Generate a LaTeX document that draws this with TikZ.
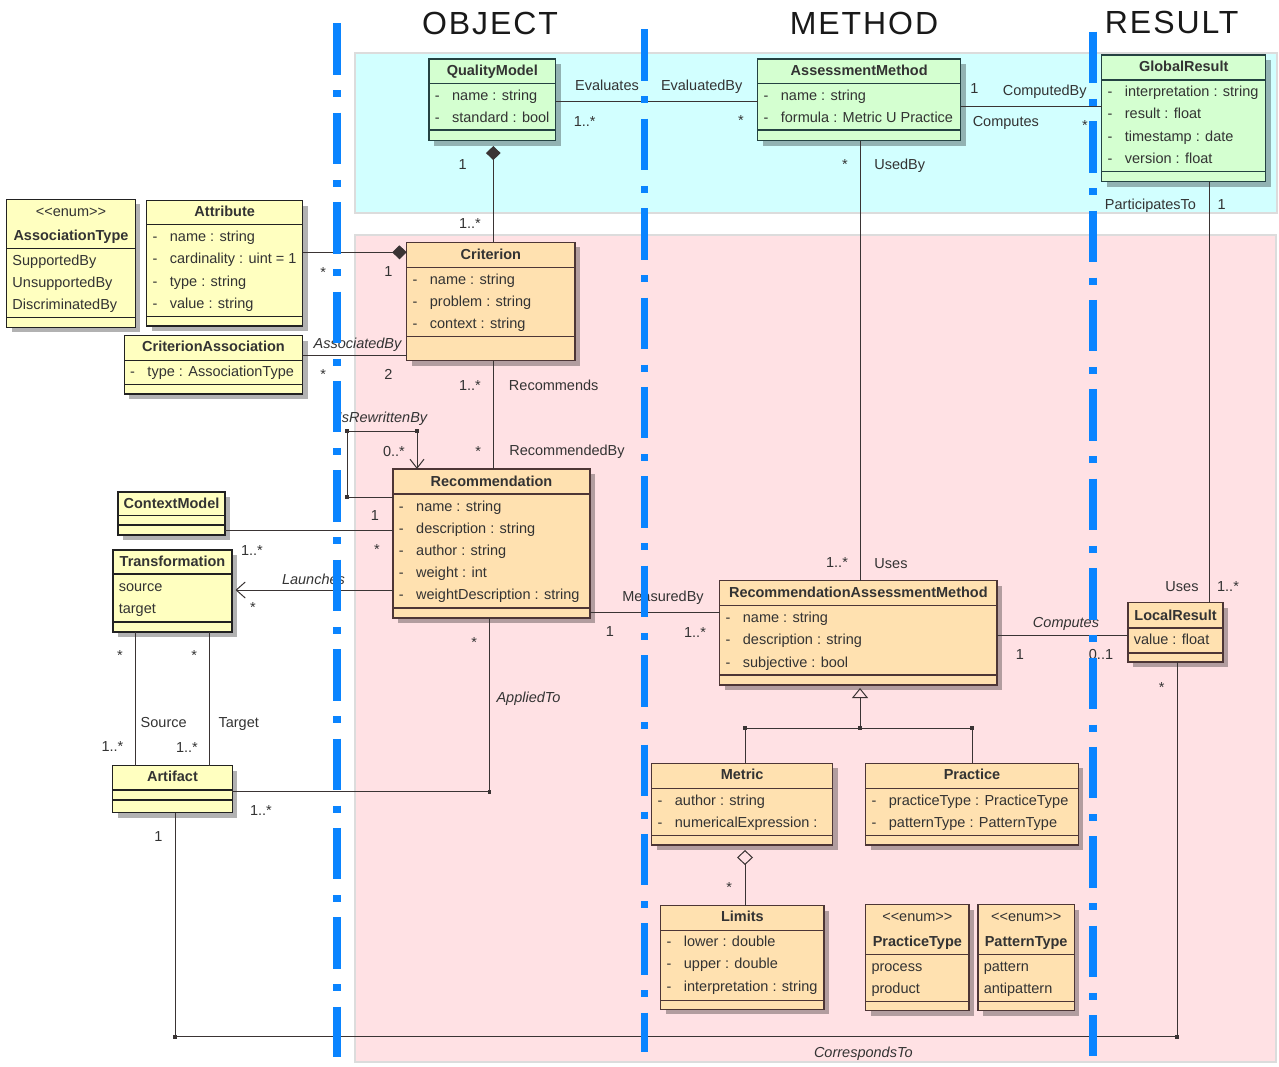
\documentclass[tikz,border=0pt]{standalone}
\usepackage{fontspec}
\setmainfont{Liberation Sans}
\newfontfamily\headfont[LetterSpace=6]{Liberation Sans}
\usetikzlibrary{arrows.meta, shadows}
\definecolor{cyanfill}{HTML}{D2FFFF}
\definecolor{pinkfill}{HTML}{FFE1E4}
\definecolor{zoneedge}{HTML}{DCDCDC}
\definecolor{grnfill}{HTML}{D4FFD0}
\definecolor{grnedge}{HTML}{244242}
\definecolor{ylwfill}{HTML}{FFFFC0}
\definecolor{ylwedge}{HTML}{222222}
\definecolor{orgfill}{HTML}{FFE1B0}
\definecolor{orgedge}{HTML}{4D3636}
\definecolor{lnclr}{HTML}{3A3434}
\definecolor{txtclr}{HTML}{333333}
\definecolor{swimclr}{HTML}{0A84FF}
\newcommand{\umlfont}{\fontsize{14.5}{22.2}\selectfont}
\newcommand{\umla}[1]{\strut\makebox[17.4pt][l]{-}#1}

\begin{document}
\begin{tikzpicture}[
  x=1pt, y=-1pt,
  font=\umlfont,
  box/.style 2 args={rectangle, draw=#1, fill=#2, line width=1.2pt, inner sep=0pt, outer sep=0pt,
              drop shadow={shadow xshift=5pt, shadow yshift=-5pt, fill=black, opacity=0.3}},
  grn/.style={box={grnedge}{grnfill}},
  ylw/.style={box={ylwedge}{ylwfill}},
  org/.style={box={orgedge}{orgfill}},
  csep/.style={draw=#1, line width=1.1pt},
  ttl/.style={font=\umlfont\bfseries, text=txtclr, inner sep=0pt, text height=10.4pt, text depth=0pt},
  mem/.style={anchor=north west, align=left, inner sep=0pt, text=txtclr, xshift=5.6pt},
  lab/.style={inner sep=0pt, text=txtclr, text height=10.4pt, text depth=0pt},
  rolelab/.style={lab, font=\umlfont\itshape},
  conn/.style={draw=lnclr, line width=1pt},
  jdot/.style={rectangle, fill=lnclr, inner sep=0pt, minimum size=3.6pt},
  zone/.style={draw=zoneedge, line width=2pt},
  swim/.style={draw=swimclr, line width=7.5pt, dash pattern=on 51.5pt off 15.6pt on 7pt off 15.3pt},
  lanehead/.style={font=\headfont\fontsize{32}{32}\selectfont, text=black!90, inner sep=0pt,
              text height=22.9pt, text depth=0pt},
]
\useasboundingbox (0,0) rectangle (1279,1066);
% ================= zones and headings ======================================
\draw[zone, fill=cyanfill] (355,52.7) rectangle (1277,213.3);
\draw[zone, fill=pinkfill] (355,235) rectangle (1276,1062);
\node[lanehead] (hobj) at (490,23) {OBJECT};
\node[lanehead] (hmet) at (864,23) {METHOD};
\node[lanehead] (hres) at (1171.7,22.5) {RESULT};
% ================= green classes ===========================================
\node[grn, minimum width=126.7, minimum height=81.5] (qm) at (492.3,99.8) {};
\draw[csep=grnedge] (qm.west |- 0,83.3) -- (qm.east |- 0,83.3) (qm.west |- 0,130) -- (qm.east |- 0,130);
\node[ttl] (qm-t) at (qm.north |- 0,70.7) {QualityModel};
\node[mem] (qm-a) at (qm.west |- 0,84.3) {\umla{name : string}\\\umla{standard : bool}};
\node[grn, minimum width=203, minimum height=81.5] (am) at (859.2,99.8) {};
\draw[csep=grnedge] (am.west |- 0,83.3) -- (am.east |- 0,83.3) (am.west |- 0,130) -- (am.east |- 0,130);
\node[ttl] (am-t) at (am.north |- 0,70.7) {AssessmentMethod};
\node[mem] (am-a) at (am.west |- 0,84.3) {\umla{name : string}\\\umla{formula : Metric U Practice}};
\node[grn, minimum width=164, minimum height=126.7] (gr) at (1183.7,118.35) {};
\draw[csep=grnedge] (gr.west |- 0,80) -- (gr.east |- 0,80) (gr.west |- 0,171.7) -- (gr.east |- 0,171.7);
\node[ttl] (gr-t) at (gr.north |- 0,66) {GlobalResult};
\node[mem] (gr-a) at (gr.west |- 0,81) {\umla{interpretation : string}\\\umla{result : float}\\\umla{timestamp : date}\\\umla{version : float}};
% ================= yellow classes ==========================================
\node[ylw, minimum width=128.6, minimum height=128] (aty) at (71,263.3) {};
\draw[csep=ylwedge] (aty.west |- 0,248.3) -- (aty.east |- 0,248.3) (aty.west |- 0,317.3) -- (aty.east |- 0,317.3);
\node[lab] (aty-s) at (aty.north |- 0,211) {<\kern0pt<enum>\kern0pt>};
\node[ttl] (aty-t) at (aty.north |- 0,235) {AssociationType};
\node[mem] (aty-l) at (aty.west |- 0,249.3) {\strut SupportedBy\\UnsupportedBy\\DiscriminatedBy};
\node[ylw, minimum width=156, minimum height=125.3] (attrib) at (224.7,263.35) {};
\draw[csep=ylwedge] (attrib.west |- 0,224.3) -- (attrib.east |- 0,224.3) (attrib.west |- 0,316.7) -- (attrib.east |- 0,316.7);
\node[ttl] (attrib-t) at (attrib.north |- 0,211.7) {Attribute};
\node[mem] (attrib-a) at (attrib.west |- 0,226) {\umla{name : string}\\\umla{cardinality : uint = 1}\\\umla{type : string}\\\umla{value : string}};
\node[ylw, minimum width=178.4, minimum height=58.3] (cass) at (213.5,364.85) {};
\draw[csep=ylwedge] (cass.west |- 0,360.7) -- (cass.east |- 0,360.7) (cass.west |- 0,384.3) -- (cass.east |- 0,384.3);
\node[ttl] (cass-t) at (cass.north |- 0,346.7) {CriterionAssociation};
\node[mem] (cass-a) at (cass.west |- 0,361) {\umla{type : AssociationType}};
\node[ylw, minimum width=107, minimum height=43] (ctx) at (171.5,513.5) {};
\draw[csep=ylwedge] (ctx.west |- 0,515.5) -- (ctx.east |- 0,515.5) (ctx.west |- 0,525) -- (ctx.east |- 0,525);
\node[ttl] (ctx-t) at (ctx.north |- 0,503.5) {ContextModel};
\node[ylw, minimum width=119, minimum height=82] (trf) at (172.5,591) {};
\draw[csep=ylwedge] (trf.west |- 0,574) -- (trf.east |- 0,574) (trf.west |- 0,622) -- (trf.east |- 0,622);
\node[ttl] (trf-t) at (trf.north |- 0,561) {Transformation};
\node[mem] (trf-a) at (trf.west |- 0,575.3) {\strut source\\target};
\node[ylw, minimum width=119.6, minimum height=47] (art) at (172.5,789.2) {};
\draw[csep=ylwedge] (art.west |- 0,790) -- (art.east |- 0,790) (art.west |- 0,800) -- (art.east |- 0,800);
\node[ttl] (art-t) at (art.north |- 0,776.7) {Artifact};
% ================= orange classes ==========================================
\node[org, minimum width=168.3, minimum height=118.4] (crit) at (490.85,301.5) {};
\draw[csep=orgedge] (crit.west |- 0,267.3) -- (crit.east |- 0,267.3) (crit.west |- 0,336.7) -- (crit.east |- 0,336.7);
\node[ttl] (crit-t) at (crit.north |- 0,254) {Criterion};
\node[mem] (crit-a) at (crit.west |- 0,268.3) {\umla{name : string}\\\umla{problem : string}\\\umla{context : string}};
\node[org, minimum width=197, minimum height=149] (rec) at (491.5,543.5) {};
\draw[csep=orgedge] (rec.west |- 0,494) -- (rec.east |- 0,494) (rec.west |- 0,608) -- (rec.east |- 0,608);
\node[ttl] (rec-t) at (rec.north |- 0,481) {Recommendation};
\node[mem] (rec-a) at (rec.west |- 0,495.3) {\umla{name : string}\\\umla{description : string}\\\umla{author : string}\\\umla{weight : int}\\\umla{weightDescription : string}};
\node[org, minimum width=277.3, minimum height=104.3] (ram) at (858.35,632.85) {};
\draw[csep=orgedge] (ram.west |- 0,605.7) -- (ram.east |- 0,605.7) (ram.west |- 0,675) -- (ram.east |- 0,675);
\node[ttl] (ram-t) at (ram.north |- 0,592.7) {RecommendationAssessmentMethod};
\node[mem] (ram-a) at (ram.west |- 0,607) {\umla{name : string}\\\umla{description : string}\\\umla{subjective : bool}};
\node[org, minimum width=95, minimum height=59.3] (lres) at (1175.5,632.35) {};
\draw[csep=orgedge] (lres.west |- 0,628) -- (lres.east |- 0,628) (lres.west |- 0,653) -- (lres.east |- 0,653);
\node[ttl] (lres-t) at (lres.north |- 0,615) {LocalResult};
\node[mem] (lres-a) at (lres.west |- 0,628.3) {\strut value : float};
\node[org, minimum width=181, minimum height=81.7] (met) at (742.2,804.15) {};
\draw[csep=orgedge] (met.west |- 0,788.3) -- (met.east |- 0,788.3) (met.west |- 0,835.7) -- (met.east |- 0,835.7);
\node[ttl] (met-t) at (met.north |- 0,774.3) {Metric};
\node[mem] (met-a) at (met.west |- 0,789.3) {\umla{author : string}\\\umla{numericalExpression :}};
\node[org, minimum width=212.6, minimum height=81.7] (prac) at (972,804.15) {};
\draw[csep=orgedge] (prac.west |- 0,788.3) -- (prac.east |- 0,788.3) (prac.west |- 0,835.7) -- (prac.east |- 0,835.7);
\node[ttl] (prac-t) at (prac.north |- 0,774.3) {Practice};
\node[mem] (prac-a) at (prac.west |- 0,789.3) {\umla{practiceType : PracticeType}\\\umla{patternType : PatternType}};
\node[org, minimum width=163.3, minimum height=103.6] (lim) at (742.35,957.5) {};
\draw[csep=orgedge] (lim.west |- 0,930.7) -- (lim.east |- 0,930.7) (lim.west |- 0,1000.7) -- (lim.east |- 0,1000.7);
\node[ttl] (lim-t) at (lim.north |- 0,916.7) {Limits};
\node[mem] (lim-a) at (lim.west |- 0,931) {\umla{lower : double}\\\umla{upper : double}\\\umla{interpretation : string}};
\node[org, minimum width=103.3, minimum height=106] (ptyp) at (917.35,957.7) {};
\draw[csep=orgedge] (ptyp.west |- 0,954.3) -- (ptyp.east |- 0,954.3) (ptyp.west |- 0,1001.7) -- (ptyp.east |- 0,1001.7);
\node[lab] (ptyp-s) at (ptyp.north |- 0,916.7) {<\kern0pt<enum>\kern0pt>};
\node[ttl] (ptyp-t) at (ptyp.north |- 0,941) {PracticeType};
\node[mem] (ptyp-l) at (ptyp.west |- 0,955.3) {\strut process\\product};
\node[org, minimum width=96.3, minimum height=106] (pat) at (1026.15,957.7) {};
\draw[csep=orgedge] (pat.west |- 0,954.3) -- (pat.east |- 0,954.3) (pat.west |- 0,1001.7) -- (pat.east |- 0,1001.7);
\node[lab] (pat-s) at (pat.north |- 0,916.7) {<\kern0pt<enum>\kern0pt>};
\node[ttl] (pat-t) at (pat.north |- 0,941) {PatternType};
\node[mem] (pat-l) at (pat.west |- 0,955.3) {\strut pattern\\antipattern};
% ================= associations ============================================
\draw[conn] (qm.east |- 0,101.7) -- (am.west |- 0,101.7)
  node[lab] at (607,85) {Evaluates} node[lab] at (584.7,121) {1..*}
  node[lab] at (701.7,85) {EvaluatedBy} node[lab] at (741,120.7) {*};
\draw[conn] (am.east |- 0,106.7) -- (gr.west |- 0,106.7)
  node[lab] at (974.3,88.3) {1} node[lab] at (1044.7,90.7) {ComputedBy}
  node[lab] at (1005.8,121) {Computes} node[lab] at (1085,125.7) {*};
\draw[conn, {Diamond[length=14pt,width=14.7pt]}-] ([xshift=1pt,yshift=-5.5pt]qm.south) -- ([xshift=2.45pt]crit.north)
  node[lab] at (462.7,164.3) {1} node[lab] at (470,223.3) {1..*};
\draw[conn, -{Diamond[length=14.5pt,width=14pt]}] (attrib.east |- 0,252.3) -- (crit.west |- 0,252.3)
  node[lab] at (323.3,272) {*} node[lab] at (388.3,271.7) {1};
\draw[conn] (cass.east |- 0,355) -- (crit.west |- 0,355)
  node[rolelab] at (357.5,343.3) {AssociatedBy} node[lab] at (323.3,374.7) {*} node[lab] at (388.3,374) {2};
\draw[conn] ([xshift=2.45pt]crit.south) -- ([xshift=1.8pt]rec.north)
  node[lab] at (470,385) {1..*} node[lab] at (553.7,385) {Recommends}
  node[lab] at (478.3,451.3) {*} node[lab] at (567,450.7) {RecommendedBy};
\draw[conn, -{Straight Barb[length=9pt,width=14pt]}] (rec.west |- 0,497) -- ++(-46,0) node[jdot]{}
  -- ++(0,-66) node[jdot]{} -| node[jdot, pos=.5]{} ([xshift=-74.5pt]rec.north)
  node[rolelab] at (382.5,417) {IsRewrittenBy} node[lab] at (394,451) {0..*};
\draw[conn] (ctx.east |- 0,530) -- (rec.west |- 0,530)
  node[lab] at (375,515) {1} node[lab] at (252,550) {1..*} node[lab] at (377,549) {*};
\draw[conn, -{Straight Barb[length=9pt,width=16pt]}, shorten >=3.5pt] (rec.west |- 0,590) -- (trf.east |- 0,590)
  node[rolelab] at (313.5,579) {Launches} node[lab] at (253,607) {*};
\draw[conn] ([xshift=-37.2pt]trf.south) -- ([xshift=-37.2pt]art.north)
  node[lab] at (120,655) {*} node[lab] at (163.7,722.3) {Source} node[lab] at (112.5,746.7) {1..*};
\draw[conn] ([xshift=37.2pt]trf.south) -- ([xshift=37.2pt]art.north)
  node[lab] at (194.3,655) {*} node[lab] at (238.7,722) {Target} node[lab] at (187,747) {1..*};
\draw[conn] ([xshift=-2.2pt]rec.south) |- node[jdot, pos=.5]{} (art.east |- 0,791.7)
  node[lab] at (474.3,642) {*} node[rolelab] at (528.5,697.7) {AppliedTo} node[lab] at (261,810.7) {1..*};
\draw[conn] (rec.east |- 0,612.7) -- (ram.west |- 0,612.7)
  node[lab] at (663,596.7) {MeasuredBy} node[lab] at (610,631.7) {1} node[lab] at (695,632) {1..*};
\draw[conn] ([xshift=0.8pt]am.south) -- ([xshift=1.65pt]ram.north)
  node[lab] at (845,164.7) {*} node[lab] at (899.7,164.3) {UsedBy}
  node[lab] at (837,562.7) {1..*} node[lab] at (891,563) {Uses};
\draw[conn] ([xshift=25.6pt]gr.south) -- ([xshift=33.8pt]lres.north)
  node[lab] at (1150.5,204) {ParticipatesTo} node[lab] at (1221.7,204) {1}
  node[lab] at (1182,586) {Uses} node[lab] at (1228,586) {1..*};
\draw[conn] (ram.east |- 0,635.7) -- (lres.west |- 0,635.7)
  node[rolelab] at (1066,622) {Computes} node[lab] at (1020,654.7) {1} node[lab] at (1101,654) {0..1};
% generalization and aggregation
\coordinate (gen) at (860,728);
\draw[conn] ([xshift=2.8pt]met.north) |- node[jdot, pos=.5]{} (gen) node[jdot]{}
  -| node[jdot, pos=.5]{} (prac.north);
\draw[conn, -{Triangle[open, length=10pt, width=16pt]}, shorten >=3pt] (gen) -- (gen |- ram.south);
\draw[conn, {Diamond[open, length=15pt, width=16pt]}-, shorten <=5pt] ([xshift=2.8pt]met.south) -- ([xshift=2.65pt]lim.north)
  node[lab] at (729.3,887) {*};
\coordinate (corr) at (175,1036.7);
\draw[conn] ([xshift=1.5pt]lres.south) |- node[jdot, pos=.5]{} (corr) node[jdot]{} -- (corr |- art.south)
  node[lab] at (1161.7,687) {*} node[lab] at (158.3,836.7) {1} node[rolelab] at (863.3,1052.3) {CorrespondsTo};
% ================= swimlane separators =====================================
\foreach \lx/\ly/\lz in {337/23.3/1057, 644.5/29.3/1052, 1093/31.7/1056}
  \draw[swim] (\lx,\ly) -- (\lx,\lz);
\end{tikzpicture}
\end{document}
